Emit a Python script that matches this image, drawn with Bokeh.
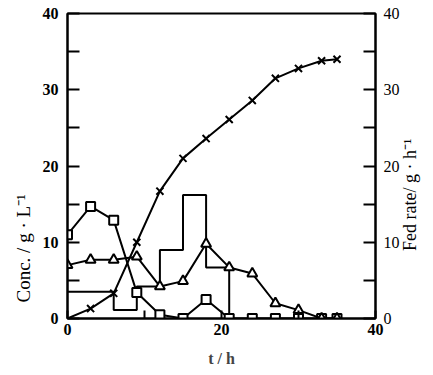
from bokeh.plotting import figure
from bokeh.models import LinearAxis, Range1d, FixedTicker, Title
from bokeh.embed import file_html
from bokeh.resources import INLINE

# sampling times (h)
t = [0, 3, 6, 9, 12, 15, 18, 21, 24, 27, 30, 33, 35]
# series (g/L)
squares = [11.0, 14.7, 12.9, 3.4, 0.5, 0.0, 2.5, 0.0, 0.0, 0.0, 0.0, 0.0, 0.0]
triangles = [7.0, 7.7, 7.7, 8.1, 4.2, 4.9, 9.8, 6.7, 5.9, 2.0, 1.1, 0.0, 0.0]
cross_t = [0, 3, 6, 9, 12, 15, 18, 21, 24, 27, 30, 33, 35]
crosses = [0.0, 1.3, 3.3, 10.0, 16.7, 21.0, 23.6, 26.1, 28.6, 31.5, 32.8, 33.8, 34.0]
# feed rate steps (g/h)
feed_t = [0, 6, 9, 12, 15, 18, 21]
feed = [3.5, 1.1, 4.2, 9.0, 16.2, 6.7, 0.0]

x_ticks = [0, 10, 20, 30, 40]
y_ticks = [0, 10, 20, 30, 40]
y_minor = [5, 15, 25, 35]

SERIF = "Liberation Serif"
PAD = "\u00a0" * 15  # lifts the right-axis title away from the bottom corner

p = figure(width=433, height=375, output_backend="svg", toolbar_location=None,
           x_range=Range1d(0, 40), y_range=Range1d(0, 40), y_axis_location=None,
           x_axis_location=None)
p.min_border_left = 67
p.min_border_right = 56
p.min_border_top = 13
p.min_border_bottom = 57
p.grid.visible = False
p.outline_line_color = "black"
p.outline_line_width = 2
p.background_fill_color = "white"
p.border_fill_color = "white"
p.extra_y_ranges = {"feed": Range1d(0, 40)}


def style(ax, bold=True):
    ax.axis_line_width = 2
    ax.axis_line_color = "black"
    ax.major_tick_in = 12
    ax.major_tick_out = 0
    ax.minor_tick_in = 12
    ax.minor_tick_out = 0
    ax.major_tick_line_width = 2
    ax.minor_tick_line_width = 2
    ax.major_label_text_font = SERIF
    ax.major_label_text_font_size = "16px"
    ax.major_label_text_font_style = "bold" if bold else "normal"
    ax.major_label_text_color = "black"


left = LinearAxis(ticker=FixedTicker(ticks=y_ticks, minor_ticks=y_minor))
style(left)
left.major_label_standoff = 9
p.add_layout(left, "left")

right = LinearAxis(y_range_name="feed", ticker=FixedTicker(ticks=y_ticks, minor_ticks=y_minor))
style(right, bold=False)
right.major_label_standoff = 8
right.axis_label = PAD + "Fed rate/ g · h⁻¹"
right.axis_label_text_font = SERIF
right.axis_label_text_font_style = "normal"
right.axis_label_text_font_size = "18px"
right.axis_label_text_color = "black"
right.axis_label_standoff = 8
right.axis_label_orientation = 1.5708
right.axis_label_align = "start"
p.add_layout(right, "right")

bottom = LinearAxis(ticker=FixedTicker(ticks=x_ticks))
style(bottom)
bottom.major_tick_in = 8
bottom.major_label_overrides = {10: "", 30: ""}
bottom.major_label_standoff = 5
bottom.axis_label = "t / h"
bottom.axis_label_text_font = SERIF
bottom.axis_label_text_font_style = "bold"
bottom.axis_label_text_font_size = "16px"
bottom.axis_label_standoff = 12
p.add_layout(bottom, "below")

# left axis title placed toward the lower part of the axis
lt = Title(text="Conc. / g · L⁻¹", align="left", offset=16, standoff=12,
           text_font=SERIF, text_font_size="19px", text_font_style="normal", text_color="black")
p.add_layout(lt, "left")

# feed-rate step line
p.step(feed_t, feed, mode="after", line_color="black", line_width=2, y_range_name="feed")

# concentration curves
p.line(t, squares, line_color="black", line_width=2)
p.scatter(t, squares, marker="square", size=9, fill_color="white", line_color="black", line_width=2)

p.line(t, triangles, line_color="black", line_width=2)
p.scatter(t, triangles, marker="triangle", size=10, fill_color="white", line_color="black", line_width=2)

p.line(cross_t, crosses, line_color="black", line_width=2)
p.scatter(cross_t[1:], crosses[1:], marker="x", size=10, line_color="black", line_width=2)

open("out.html", "w").write(file_html(p, INLINE))
